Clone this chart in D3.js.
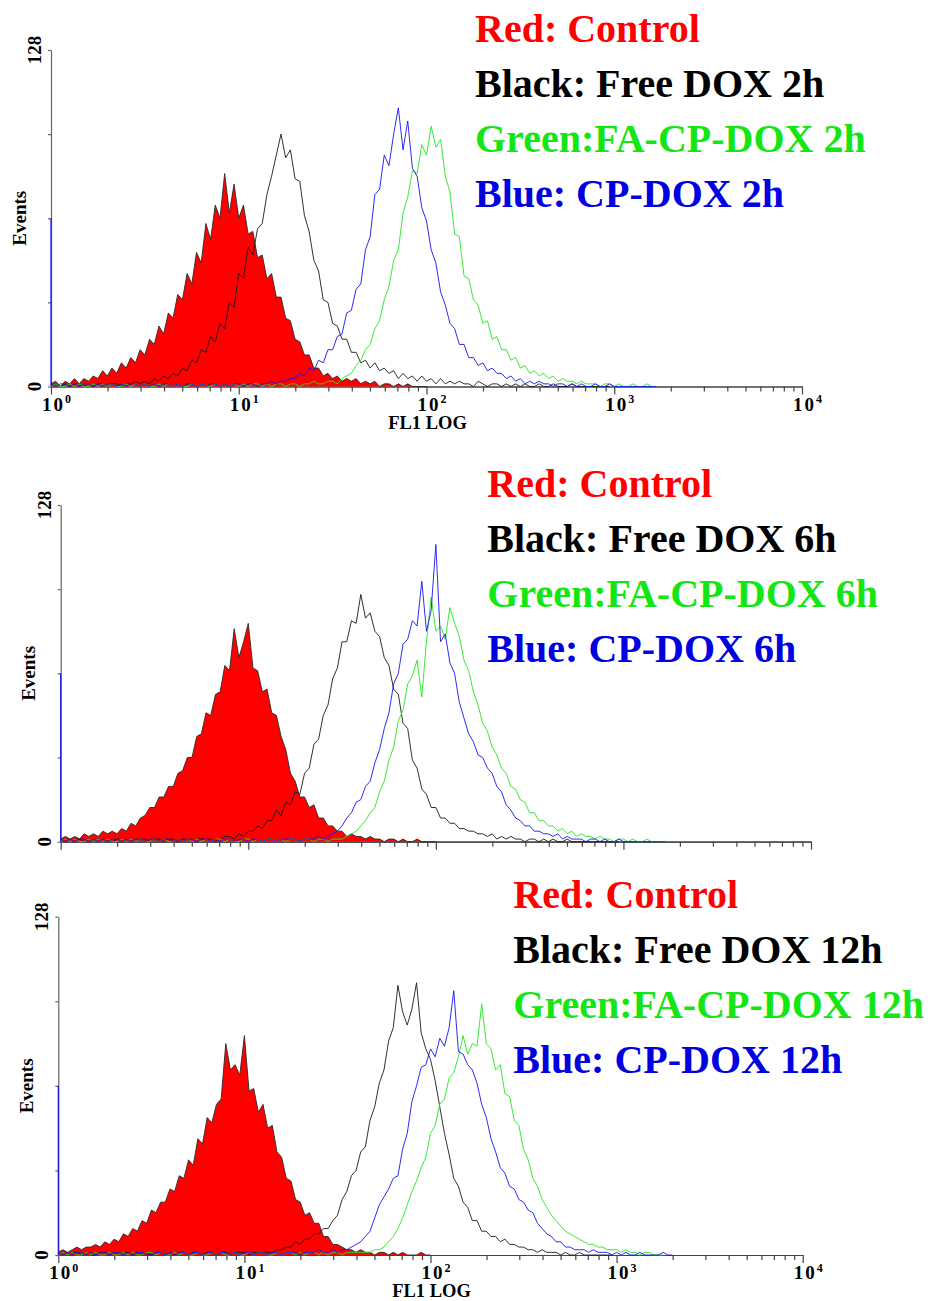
<!DOCTYPE html>
<html><head><meta charset="utf-8">
<script src="https://cdn.jsdelivr.net/npm/d3@7"></script>
<style>
html,body{margin:0;padding:0;background:#fff;}
svg{display:block;}
text{font-family:"Liberation Serif","Times New Roman",serif;font-weight:bold;}
</style></head><body>
<svg id="chart" width="930" height="1301"></svg>
<script>
// Histogram points: one every STEP decades of FL1, first point at FL1 = 10^0
const STEP = 0.025;
const yTicks = [0, 32, 64, 96, 128];
const yTickLabels = [0, 128];
const decades = [0, 1, 2, 3, 4];
const xAxisTitle = "FL1 LOG";
const yAxisTitle = "Events";

const legend2h = ["Red: Control", "Black: Free DOX 2h", "Green:FA-CP-DOX 2h", "Blue: CP-DOX 2h"];
const legend6h = ["Red: Control", "Black: Free DOX 6h", "Green:FA-CP-DOX 6h", "Blue: CP-DOX 6h"];
const legend12h = ["Red: Control", "Black: Free DOX 12h", "Green:FA-CP-DOX 12h", "Blue: CP-DOX 12h"];

// events in the first channel of the blue histogram (drawn on the axis)
const blueFirstBin = [64, 64, 64];

// ---------- 2 h ----------
const red2h = [
1,2,0,2,1,3,1,3,2,4,
3,6,4,7,5,9,7,11,9,14,
12,18,16,23,20,28,26,35,33,43,
39,51,47,62,56,69,64,81,66,77,
64,69,58,59,49,50,41,43,34,34,
26,25,18,17,12,12,7,7,4,5,
3,4,2,3,2,3,1,2,1,2,
0,1,1,0,1,0,1,0,0,0,
0];
const black2h = [
0,1,0,1,0,1,1,0,1,0,
1,1,0,1,1,0,1,1,2,1,
2,1,3,2,4,3,5,4,7,6,
10,9,14,13,19,17,24,22,32,30,
43,41,53,50,60,62,73,80,88,96,
87,90,79,78,65,59,48,44,33,32,
24,23,18,18,13,13,9,10,7,9,
6,7,5,6,3,5,3,4,2,4,
2,3,1,3,1,2,1,2,1,1,
0,2,1,0,1,1,0,1,0,1,
0,1,0,0,1,0,0,1,0,0,
0,1,0,0,0,0,0,0,0,0];
const green2h = [
0,1,0,0,1,0,1,0,0,1,
0,1,0,1,0,0,1,0,1,0,
1,0,0,1,0,1,0,1,0,0,
1,0,1,0,0,1,0,1,0,1,
0,1,0,1,1,0,1,0,1,1,
0,1,1,0,1,1,2,1,1,2,
2,1,3,4,5,8,10,14,16,22,
25,33,38,48,52,66,72,82,81,92,
88,99,91,94,80,74,58,57,42,41,
33,31,24,25,18,19,14,14,10,11,
7,8,5,6,4,5,3,4,2,3,
2,2,1,2,1,1,1,0,1,1,
0,1,0,0,1,0,0,1,0,0];
const blue2h = [
1,0,1,1,0,1,0,1,1,0,
1,0,1,1,0,1,0,1,1,0,
1,0,1,0,1,1,0,1,0,1,
1,0,1,0,1,1,0,1,0,1,
1,0,1,1,0,1,1,2,1,2,
2,3,3,5,4,7,6,10,9,14,
14,19,20,28,29,37,39,52,57,73,
75,88,84,96,106,90,101,83,80,68,
63,52,47,36,31,24,22,16,16,11,
11,8,9,6,7,5,5,3,4,2,
3,1,2,1,2,1,1,0,1,1,
0,1,0,1,0,0,1,0,0,1,
0,0,0,0,0,0,0,0,0,0];

// ---------- 6 h ----------
const red6h = [
1,2,1,2,1,3,2,3,2,4,
3,4,3,5,4,7,6,9,10,13,
13,17,17,21,21,26,27,32,32,40,
41,49,48,56,57,67,65,81,70,76,
83,66,65,57,58,49,48,40,35,26,
23,17,17,13,14,9,9,6,6,4,
4,2,3,2,2,1,2,1,1,0,
1,1,0,1,0,0,1,0,0,0,
0];
const black6h = [
0,1,0,1,1,0,1,0,1,0,
1,0,1,1,0,1,0,1,1,0,
1,1,0,1,1,0,1,1,0,1,
1,1,1,0,1,2,2,1,3,2,
4,4,6,5,8,8,12,10,15,14,
19,18,26,28,37,39,48,52,62,66,
76,76,84,83,94,85,87,80,78,70,
67,58,56,45,43,31,28,20,18,13,
13,9,9,7,7,5,5,4,4,3,
3,2,3,1,2,1,2,1,1,0,
1,1,0,1,0,1,0,0,1,0,
0,0,0,0,0,0,0,0,0,0];
const green6h = [
0,1,0,1,0,0,1,0,1,0,
1,0,0,1,0,1,0,1,0,0,
1,0,1,0,0,1,0,1,0,1,
0,1,0,1,1,0,1,0,0,1,
1,0,1,0,1,1,0,1,0,1,
1,0,1,1,0,1,1,0,1,1,
1,2,3,4,6,8,11,13,19,23,
31,36,46,50,60,63,69,55,76,93,
80,82,77,89,83,78,69,65,57,52,
45,42,36,33,28,26,21,20,16,15,
11,11,8,8,6,6,4,5,3,4,
2,3,2,2,1,2,1,1,0,1,
1,0,1,0,0,1,0,0,0,0];
const blue6h = [
1,0,1,0,1,1,0,1,0,1,
0,1,1,0,1,0,1,1,0,1,
1,0,1,1,0,1,0,1,1,0,
1,1,0,1,0,1,1,0,1,1,
0,1,1,0,1,1,0,1,1,1,
1,0,1,1,1,2,1,2,3,4,
6,9,11,15,16,21,23,30,35,43,
49,60,64,75,77,84,82,99,80,88,
113,76,79,68,64,53,47,41,38,33,
32,28,26,21,19,14,12,9,8,6,
6,4,4,3,3,2,3,1,2,1,
1,1,0,1,1,0,1,0,0,1,
0,0,0,0,0,0,0,0,0,0];

// ---------- 12 h ----------
const red12h = [
1,2,1,2,3,2,3,3,4,3,
5,4,6,5,8,7,10,9,13,12,
17,16,20,20,25,24,30,29,36,34,
44,42,52,50,57,59,80,70,72,68,
83,62,63,54,57,48,49,39,37,29,
28,21,20,15,16,12,12,7,7,4,
4,3,2,2,1,2,1,1,0,1,
1,0,1,0,1,0,0,0,1,0,
0];
const black12h = [
0,1,0,1,1,0,1,0,0,1,
1,0,1,0,1,1,0,1,0,1,
0,1,1,0,1,0,1,1,0,1,
1,0,1,1,0,1,1,0,1,1,
1,0,1,1,1,1,1,2,2,3,
3,5,4,6,6,8,8,10,10,13,
15,21,24,30,32,39,41,51,56,65,
70,81,86,102,92,87,93,103,84,78,
74,66,56,46,38,29,26,20,18,13,
13,9,9,7,7,5,6,4,4,3,
3,2,2,1,2,1,1,1,0,1,
0,0,1,0,0,0,0,0,0,0];
const green12h = [
0,1,0,1,0,0,1,0,1,0,
0,1,0,0,1,0,1,0,0,1,
1,0,1,0,0,1,0,1,0,0,
1,0,0,1,0,1,0,0,1,0,
0,1,0,1,1,0,0,1,0,1,
1,0,1,0,1,1,0,1,0,1,
1,0,1,1,1,1,1,1,2,2,
3,5,7,10,14,19,24,28,33,37,
46,49,57,59,67,69,75,83,76,80,
79,95,80,78,70,72,61,60,51,49,
40,36,29,26,21,18,15,13,11,9,
8,7,6,5,4,4,3,3,2,2,
2,1,2,1,1,0,1,1,0,0,
0];
const blue12h = [
1,0,1,0,1,1,0,1,0,1,
1,0,1,1,0,1,0,1,1,0,
0,1,1,0,1,0,1,1,0,1,
1,0,1,1,0,1,1,0,1,0,
1,1,0,1,1,0,1,1,0,1,
1,1,0,1,1,1,2,1,1,2,
1,2,2,3,4,5,7,9,14,19,
22,25,29,30,40,46,58,64,71,72,
78,75,82,79,86,100,77,76,72,70,
65,57,52,44,39,33,31,26,25,21,
20,17,16,12,10,8,7,5,5,3,
3,2,2,2,1,2,1,1,1,0,
1,0,1,0,0,1,0,0,0,0,
1,0,0];

const seriesColors = {red: "#ff0000", outline: "#2a2a2a", black: "#1a1a1a", green: "#22e622", blue: "#1515f0"};
const legendColors = ["#ff0000", "#000000", "#14e614", "#0000e0"];

const panels = [
  {red: red2h, black: black2h, green: green2h, blue: blue2h, first: blueFirstBin[0], legend: legend2h,
   L: {x0: 51, x1: 802, yTop: 50, yBase: 386.5, lx: 475, ly: 41.7, xLabels: true}},
  {red: red6h, black: black6h, green: green6h, blue: blue6h, first: blueFirstBin[1], legend: legend6h,
   L: {x0: 60.7, x1: 811, yTop: 505, yBase: 841.7, lx: 487.3, ly: 496.7, xLabels: false}},
  {red: red12h, black: black12h, green: green12h, blue: blue12h, first: blueFirstBin[2], legend: legend12h,
   L: {x0: 58.3, x1: 802.7, yTop: 916.7, yBase: 1255, lx: 513.3, ly: 908.3, xLabels: true}}
];

const svg = d3.select("#chart");
const minorTicks = [];
decades.slice(0, -1).forEach(d => { for (let k = 2; k <= 9; k++) minorTicks.push(k * Math.pow(10, d)); });

panels.forEach(p => {
  const L = p.L;
  const x = d3.scaleLog().domain([1, 1e4]).range([L.x0, L.x1]);
  const y = d3.scaleLinear().domain([0, 128]).range([L.yBase, L.yTop]);
  const g = svg.append("g");
  const px = (d, i) => x(Math.pow(10, i * STEP));

  // y axis
  const gy = g.append("g").attr("transform", `translate(${L.x0},0)`)
    .call(d3.axisLeft(y).tickValues(yTicks).tickSize(3).tickSizeOuter(0).tickFormat(""));
  gy.selectAll("path,line").attr("stroke", "#666").attr("stroke-width", 1.2);

  // x axis: minor then major ticks
  const gxm = g.append("g").attr("transform", `translate(0,${L.yBase})`)
    .call(d3.axisBottom(x).tickValues(minorTicks).tickSize(5).tickSizeOuter(0).tickFormat(""));
  gxm.selectAll("path,line").attr("stroke", "#444").attr("stroke-width", 1.2);
  const gxM = g.append("g").attr("transform", `translate(0,${L.yBase})`)
    .call(d3.axisBottom(x).tickValues(decades.map(d => Math.pow(10, d))).tickSize(8).tickSizeOuter(0).tickFormat(""));
  gxM.selectAll("path,line").attr("stroke", "#444").attr("stroke-width", 1.2);

  // y tick labels
  yTickLabels.forEach(v => {
    g.append("text").attr("transform", `translate(${L.x0 - 10},${y(v)}) rotate(-90)`)
      .attr("text-anchor", "middle").attr("font-size", 19).attr("fill", "#000").text(v);
  });
  g.append("text").attr("transform", `translate(${L.x0 - 25.5},${(L.yTop + L.yBase) / 2}) rotate(-90)`)
    .attr("text-anchor", "middle").attr("font-size", 19).attr("fill", "#000").text(yAxisTitle);

  if (L.xLabels) {
    decades.forEach(d => {
      const t = g.append("text").attr("x", x(Math.pow(10, d)) - 9).attr("y", L.yBase + 24)
        .attr("font-size", 19).attr("fill", "#000");
      t.append("tspan").attr("letter-spacing", "2px").text("10");
      t.append("tspan").attr("font-size", 12).attr("dy", -7.5).text(d);
    });
    g.append("text").attr("x", x(100) + 1).attr("y", L.yBase + 42).attr("text-anchor", "middle")
      .attr("font-size", 18.5).attr("fill", "#000").text(xAxisTitle);
  }

  // data
  const area = d3.area().x(px).y0(L.yBase).y1(d => y(d));
  const line = d3.line().x(px).y(d => y(d));
  g.append("path").datum(p.red).attr("d", area).attr("fill", seriesColors.red);
  g.append("path").datum(p.red).attr("d", line).attr("fill", "none").attr("stroke", seriesColors.outline).attr("stroke-width", 0.9);
  g.append("path").datum(p.black).attr("d", line).attr("fill", "none").attr("stroke", seriesColors.black).attr("stroke-width", 0.9);
  g.append("path").datum(p.green).attr("d", line).attr("fill", "none").attr("stroke", seriesColors.green).attr("stroke-width", 0.9);
  g.append("path").datum(p.blue).attr("d", line).attr("fill", "none").attr("stroke", seriesColors.blue).attr("stroke-width", 0.9);
  g.append("line").attr("x1", x(1)).attr("x2", x(1)).attr("y1", y(0)).attr("y2", y(p.first))
    .attr("stroke", seriesColors.blue).attr("stroke-width", 1.2);

  // legend
  p.legend.forEach((s, i) => {
    g.append("text").attr("x", L.lx).attr("y", L.ly + i * 55).attr("font-size", 40)
      .attr("fill", legendColors[i]).text(s);
  });
});
</script>
</body></html>
